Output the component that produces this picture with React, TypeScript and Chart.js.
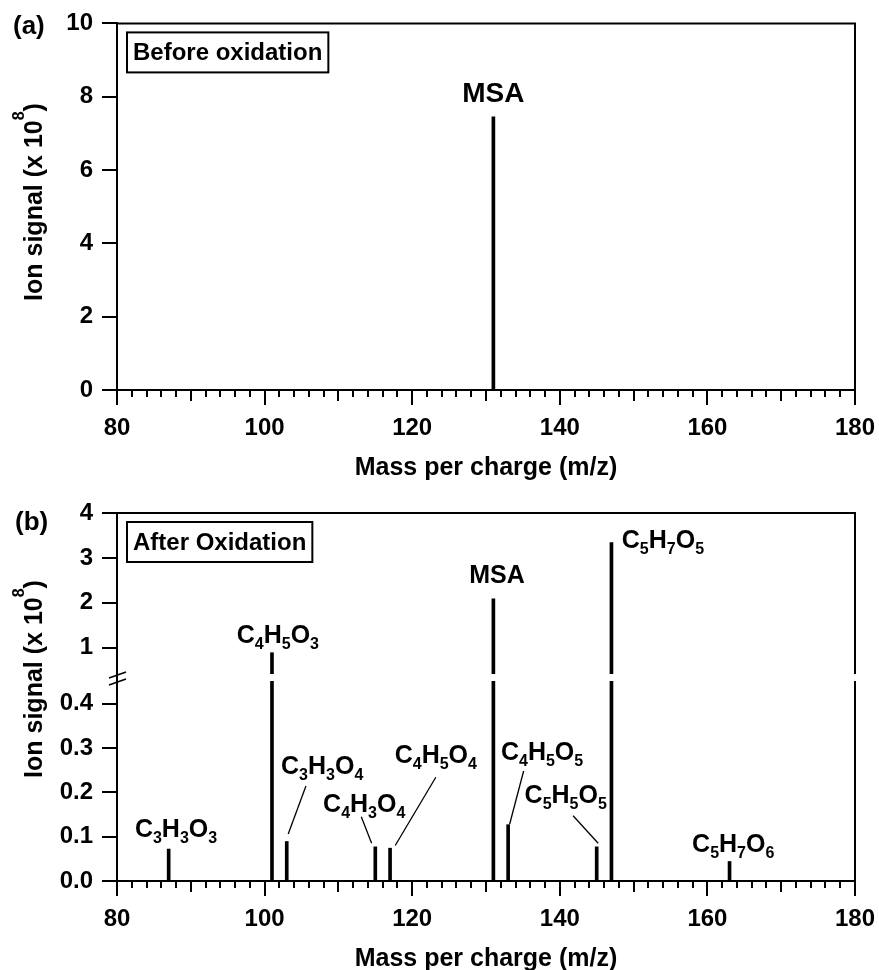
import React, { useEffect, useRef } from 'react';
import { Chart, registerables } from 'chart.js';

Chart.register(...registerables);

const FONT = '"Liberation Sans", Arial, Helvetica, sans-serif';

// ---------- Panel (a): before oxidation ----------
const massA = [131];
const signalA = [7.45];
const yTicksA = [0, 2, 4, 6, 8, 10];

// ---------- Panel (b): after oxidation ----------
const massB = [87, 101, 103, 115, 117, 131, 133, 145, 147, 163];
const signalB = [0.072, 0.89, 0.089, 0.077, 0.074, 2.09, 0.127, 0.077, 3.34, 0.044];
const yTicksLow = [0, 0.1, 0.2, 0.3, 0.4];
const yTicksHigh = [1, 2, 3, 4];

// shared x ticks
const xTicks = [80, 100, 120, 140, 160, 180];

// broken axis ranges (panel b)
const LOW_MAX = 0.46;
const HIGH_MIN = 0.35;

type Ann = {
  text: string;
  x: number;
  y: number;
  axis: string;
  size?: number;
  align?: 'left' | 'center';
  line?: [number, number, number, number];
};

// label placements (data units)
const labelsA: Ann[] = [{ text: 'MSA', x: 131, y: 7.85, axis: 'y', size: 28 }];
const labelsB: Ann[] = [
  { text: 'C3H3O3', x: 88.0, y: 0.1, axis: 'yLow' },
  { text: 'C4H5O3', x: 101.8, y: 1.11, axis: 'yHigh' },
  { text: 'C3H3O4', x: 107.8, y: 0.242, axis: 'yLow', line: [103.2, 0.106, 105.6, 0.214] },
  { text: 'C4H3O4', x: 113.5, y: 0.156, axis: 'yLow', line: [114.5, 0.085, 113.1, 0.145] },
  { text: 'C4H5O4', x: 123.2, y: 0.267, axis: 'yLow', line: [117.7, 0.08, 123.2, 0.234] },
  { text: 'MSA', x: 131.5, y: 2.44, axis: 'yHigh', size: 25 },
  { text: 'C4H5O5', x: 137.6, y: 0.273, axis: 'yLow', line: [133.2, 0.128, 135.1, 0.248] },
  { text: 'C5H5O5', x: 140.8, y: 0.176, axis: 'yLow', line: [141.8, 0.147, 145.2, 0.085] },
  { text: 'C5H7O5', x: 148.4, y: 3.22, axis: 'yHigh', align: 'left' },
  { text: 'C5H7O6', x: 163.5, y: 0.0655, axis: 'yLow' },
];

function drawFormula(ctx: CanvasRenderingContext2D, text: string, x: number, y: number, size: number, align: string) {
  const subSize = 16;
  const parts = text.match(/[A-Za-z]+|\d+/g) || [];
  let total = 0;
  const widths = parts.map((p) => {
    ctx.font = `bold ${/\d/.test(p) ? subSize : size}px ${FONT}`;
    const w = ctx.measureText(p).width;
    total += w;
    return w;
  });
  let cx = align === 'left' ? x : x - total / 2;
  ctx.textAlign = 'left';
  ctx.textBaseline = 'alphabetic';
  parts.forEach((p, i) => {
    const sub = /\d/.test(p);
    ctx.font = `bold ${sub ? subSize : size}px ${FONT}`;
    ctx.fillText(p, cx, sub ? y + 6 : y);
    cx += widths[i];
  });
}

type Cfg = {
  panel: string;
  panelX: number;
  panelY: number;
  box: string;
  labels: Ann[];
  yScales: string[];
  yTitleCenter: number;
  broken: boolean;
};

function overlay(cfg: Cfg) {
  return {
    id: 'overlay',
    afterDraw(chart: any) {
      const { ctx, chartArea: a, scales } = chart;
      const xs = scales.x;
      const seg = (x1: number, y1: number, x2: number, y2: number) => {
        ctx.beginPath();
        ctx.moveTo(x1, y1);
        ctx.lineTo(x2, y2);
        ctx.stroke();
      };
      ctx.save();
      ctx.strokeStyle = '#000';
      ctx.fillStyle = '#000';
      ctx.lineWidth = 2;
      ctx.lineCap = 'butt';

      // frame (top and right)
      ctx.beginPath();
      ctx.moveTo(a.left - 1, a.top);
      ctx.lineTo(a.right, a.top);
      ctx.lineTo(a.right, a.bottom);
      ctx.stroke();

      // x ticks
      for (let m = xs.min; m <= xs.max; m += 2) {
        const px = Math.round(xs.getPixelForValue(m));
        const len = m % 20 === 0 ? 15 : m % 10 === 0 ? 11 : 7;
        seg(px, a.bottom, px, a.bottom + len);
      }
      // y ticks
      cfg.yScales.forEach((id) => {
        const s = scales[id];
        s.ticks.forEach((t: any) => {
          const py = Math.round(s.getPixelForValue(t.value));
          seg(a.left - 15, py, a.left, py);
        });
      });

      // axis break
      if (cfg.broken) {
        const yb = scales.yHigh.bottom;
        ctx.fillStyle = '#fff';
        ctx.fillRect(a.left + 1.5, yb - 3, a.right - a.left + 2, 7);
        ctx.fillStyle = '#000';
        ctx.lineWidth = 1.5;
        [-2, 5].forEach((d) => seg(a.left - 8, yb + d + 3, a.left + 9, yb + d - 3));
        ctx.lineWidth = 2;
      }

      // labels
      ctx.fillStyle = '#000';
      cfg.labels.forEach((l) => {
        const ys = scales[l.axis];
        drawFormula(ctx, l.text, xs.getPixelForValue(l.x), ys.getPixelForValue(l.y), l.size ?? 25, l.align ?? 'center');
        if (l.line) {
          const yl = scales.yLow;
          ctx.lineWidth = 1.3;
          seg(xs.getPixelForValue(l.line[0]), yl.getPixelForValue(l.line[1]), xs.getPixelForValue(l.line[2]), yl.getPixelForValue(l.line[3]));
          ctx.lineWidth = 2;
        }
      });

      // boxed label
      ctx.font = `bold 24px ${FONT}`;
      ctx.textAlign = 'left';
      ctx.textBaseline = 'alphabetic';
      const tw = ctx.measureText(cfg.box).width;
      ctx.strokeRect(a.left + 10, a.top + 9, tw + 12, 40);
      ctx.fillText(cfg.box, a.left + 16, a.top + 37);

      // panel letter
      ctx.font = `bold 26px ${FONT}`;
      ctx.fillText(cfg.panel, cfg.panelX, cfg.panelY);

      // x title
      ctx.font = `bold 25px ${FONT}`;
      ctx.textAlign = 'center';
      ctx.fillText('Mass per charge (m/z)', (a.left + a.right) / 2, a.bottom + 85);

      // y title (rotated, with superscript)
      const p1 = 'Ion signal (x 10';
      const p2 = '8';
      const p3 = ')';
      ctx.font = `bold 25px ${FONT}`;
      const w1 = ctx.measureText(p1).width;
      const w3 = ctx.measureText(p3).width;
      ctx.font = `bold 16px ${FONT}`;
      const w2 = ctx.measureText(p2).width;
      const total = w1 + w2 + w3;
      ctx.translate(42, cfg.yTitleCenter);
      ctx.rotate(-Math.PI / 2);
      ctx.textAlign = 'left';
      let cx = -total / 2;
      ctx.font = `bold 25px ${FONT}`;
      ctx.fillText(p1, cx, 0);
      cx += w1;
      ctx.font = `bold 16px ${FONT}`;
      ctx.fillText(p2, cx, -18);
      cx += w2;
      ctx.font = `bold 25px ${FONT}`;
      ctx.fillText(p3, cx, 0);
      ctx.restore();
    },
  };
}

const tickFont = { family: FONT, size: 24, weight: 'bold' as const };

function xScale(height: number) {
  return {
    type: 'linear' as const,
    min: 80,
    max: 180,
    offset: false,
    afterBuildTicks: (s: any) => {
      s.ticks = xTicks.map((v) => ({ value: v }));
    },
    ticks: { font: tickFont, color: '#000', padding: 0, maxRotation: 0, autoSkip: false },
    grid: { display: false, drawTicks: true, tickLength: 24 },
    border: { display: true, color: '#000', width: 2 },
    afterFit: (s: any) => {
      s.height = height;
    },
  };
}

function yScale(min: number, max: number, ticks: number[], fmt: (v: number) => string, extra: any = {}) {
  return {
    type: 'linear' as const,
    position: 'left' as const,
    min,
    max,
    afterBuildTicks: (s: any) => {
      s.ticks = ticks.map((v) => ({ value: v }));
    },
    ticks: { font: tickFont, color: '#000', padding: 9, autoSkip: false, callback: (v: any) => fmt(Number(v)) },
    grid: { display: false, drawTicks: true, tickLength: 15 },
    border: { display: true, color: '#000', width: 2 },
    afterFit: (s: any) => {
      s.width = 117;
    },
    ...extra,
  };
}

export default function App() {
  const refA = useRef<HTMLCanvasElement>(null);
  const refB = useRef<HTMLCanvasElement>(null);

  useEffect(() => {
    const chartA = new Chart(refA.current as HTMLCanvasElement, {
      type: 'bar',
      data: {
        datasets: [
          {
            data: massA.map((m, i) => ({ x: m, y: signalA[i] })),
            backgroundColor: '#000',
            barThickness: 3,
            grouped: false,
          } as any,
        ],
      },
      options: {
        animation: false,
        responsive: false,
        devicePixelRatio: 1,
        layout: { padding: { top: 22, right: 24, left: 0, bottom: 0 } },
        plugins: { legend: { display: false }, tooltip: { enabled: false } },
        scales: {
          x: xScale(95),
          y: yScale(0, 10, yTicksA, (v) => String(v)),
        } as any,
      },
      plugins: [
        overlay({
          panel: '(a)',
          panelX: 13,
          panelY: 34,
          box: 'Before oxidation',
          labels: labelsA,
          yScales: ['y'],
          yTitleCenter: 202,
          broken: false,
        }),
      ],
    });

    const lowData = massB.map((m, i) => ({ x: m, y: Math.min(signalB[i], LOW_MAX) }));
    const highData = massB
      .map((m, i) => ({ x: m, v: signalB[i] }))
      .filter((d) => d.v > LOW_MAX)
      .map((d) => ({ x: d.x, y: [HIGH_MIN, d.v] }));

    const chartB = new Chart(refB.current as HTMLCanvasElement, {
      type: 'bar',
      data: {
        datasets: [
          { data: lowData, yAxisID: 'yLow', backgroundColor: '#000', barThickness: 3, grouped: false } as any,
          { data: highData, yAxisID: 'yHigh', backgroundColor: '#000', barThickness: 3, grouped: false } as any,
        ],
      },
      options: {
        animation: false,
        responsive: false,
        devicePixelRatio: 1,
        layout: { padding: { top: 28, right: 24, left: 0, bottom: 0 } },
        plugins: { legend: { display: false }, tooltip: { enabled: false } },
        scales: {
          x: xScale(89),
          yLow: yScale(0, LOW_MAX, yTicksLow, (v) => v.toFixed(1), { stack: 'v', stackWeight: 204 }),
          yHigh: yScale(HIGH_MIN, 4, yTicksHigh, (v) => String(v), { stack: 'v', stackWeight: 164 }),
        } as any,
      },
      plugins: [
        overlay({
          panel: '(b)',
          panelX: 15,
          panelY: 45,
          box: 'After Oxidation',
          labels: labelsB,
          yScales: ['yLow', 'yHigh'],
          yTitleCenter: 194,
          broken: true,
        }),
      ],
    });

    return () => {
      chartA.destroy();
      chartB.destroy();
    };
  }, []);

  return (
    <div style={{ position: 'absolute', left: 0, top: 0, width: 879, height: 970, background: '#fff' }}>
      <canvas ref={refA} width={879} height={485} style={{ display: 'block' }} />
      <canvas ref={refB} width={879} height={485} style={{ display: 'block' }} />
    </div>
  );
}
